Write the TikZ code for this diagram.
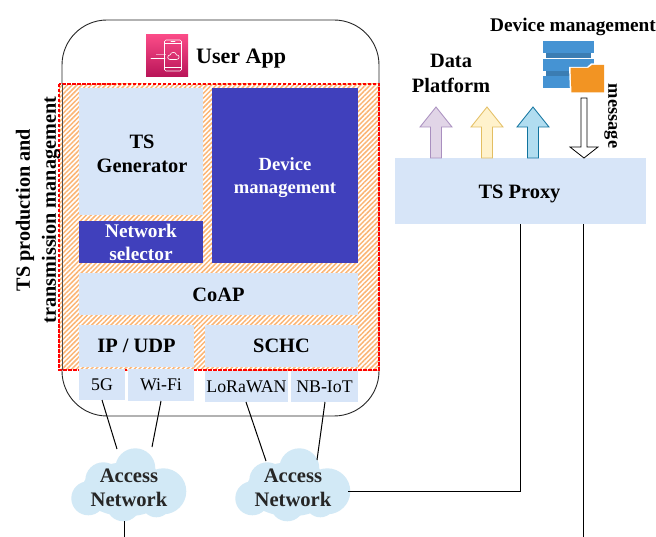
\documentclass[tikz,border=0pt]{standalone}
\usepackage{fontspec}
\setmainfont{Liberation Serif}
\usetikzlibrary{patterns.meta,shapes.arrows,calc}
\definecolor{boxblue}{HTML}{D7E5F8}
\definecolor{deepblue}{HTML}{4040BC}
\definecolor{cloudblue}{HTML}{D2E9F6}
\definecolor{hatchor}{HTML}{FBB574}
\definecolor{icontop}{HTML}{FA4B87}
\definecolor{iconbot}{HTML}{B81458}
\definecolor{purpd}{HTML}{A98FBF}
\definecolor{purpf}{HTML}{E1D5E7}
\definecolor{yeld}{HTML}{E3BE62}
\definecolor{yelf}{HTML}{FFF2CC}
\definecolor{blud}{HTML}{10739E}
\definecolor{bluf}{HTML}{B1DDF0}
\definecolor{srv}{HTML}{4593D3}
\definecolor{fold}{HTML}{F29423}
\tikzset{
  x=1pt,y=-1pt,
  lb/.style={fill=boxblue,inner sep=0pt,align=center,font=\fontsize{20.4}{24}\selectfont\bfseries,text=black},
  db/.style={fill=deepblue,inner sep=0pt,align=center,font=\fontsize{18.6}{23}\selectfont\bfseries,text=white},
  sb/.style={fill=boxblue,inner sep=0pt,align=center,font=\fontsize{17.8}{20}\selectfont,text=black},
  lbl/.style={inner sep=0pt,align=center,font=\fontsize{20.2}{26}\selectfont\bfseries},
  cn/.style={inner sep=0pt,align=center,font=\fontsize{20.6}{24}\selectfont\bfseries,text=black!85},
  conn/.style={draw=black,line width=1pt},
  uparrow/.style={line width=0.8pt,line join=miter},
}
\newcommand{\mycloud}[2]{%
  \begin{scope}[shift={(#1,#2)}]
    \fill[cloudblue] (-40,13) circle[radius=17] (-25,-5) circle[radius=18] (7,-17) circle[radius=20]
      (35,6) circle[radius=23] (-5,19) circle[radius=17] (28,17) circle[radius=15]
      (-2,4) ellipse[x radius=44,y radius=27];
  \end{scope}}
\newcommand{\myuparrow}[3]{%
  \draw[uparrow,draw=#2,fill=#3] (#1-5.5,158) -- (#1-5.5,127) -- (#1-16,127) -- (#1,107) -- (#1+16,127) -- (#1+5.5,127) -- (#1+5.5,158) -- cycle;}
\begin{document}
\begin{tikzpicture}
\useasboundingbox (0,0) rectangle (656,537);
\fill[white] (0,0) rectangle (656,537);
% device outline
\draw[line width=0.9pt,black!85,rounded corners=45pt] (62,20) rectangle (379,416);
% hatching
\fill[white] (59,84) rectangle (379,370);
\fill[pattern={Lines[angle=45,distance=3.4pt,line width=1.5pt]},pattern color=hatchor] (59,84) rectangle (379,370);
\draw[line width=1.1pt,red,dash pattern=on 3.5pt off 1.5pt] (59,84) rectangle (379,370);
\draw[line width=0.6pt,black!70] (62,84) -- (62,370);
% stack
\node[lb,minimum width=124pt,minimum height=127pt] (gen) at (141,151.5) {};
\node[inner sep=0pt,align=center,font=\fontsize{20.4}{24}\selectfont\bfseries] (gentxt) at (142,154) {TS\\Generator};
\node[db,minimum width=124pt,minimum height=42pt,font=\fontsize{19.3}{23}\selectfont\bfseries] (sel) at (141,242) {Network\\selector};
\node[db,minimum width=146pt,minimum height=175pt] (dev) at (285,175.5) {};
\node[text=white,inner sep=0pt,align=center,font=\fontsize{18.6}{23}\selectfont\bfseries] (devtxt) at (285,178) {Device\\management};
\node[lb,minimum width=279pt,minimum height=42pt] (coap) at (218.5,294.5) {CoAP};
\node[lb,minimum width=115pt,minimum height=42pt] (ip) at (136.5,346) {IP / UDP};
\node[lb,minimum width=153pt,minimum height=42pt] (schc) at (281.5,346) {SCHC};
% radios
\node[sb,minimum width=46pt,minimum height=31pt] (fiveg) at (102,384.5) {5G};
\node[sb,minimum width=66pt,minimum height=32pt] (wifi) at (161,385) {Wi-Fi};
\node[sb,minimum width=83pt,minimum height=31pt] (lora) at (246.5,386.5) {LoRaWAN};
\node[sb,minimum width=67pt,minimum height=31pt] (nb) at (324.5,386.5) {NB-IoT};
% user app
\shade[bottom color=iconbot,top color=icontop] (146,35) rectangle (188,77);
\begin{scope}[draw=white,line width=0.6pt,line cap=round]
  \draw[rounded corners=1.5pt] (164.5,40) rectangle (181.5,71);
  \draw (164.5,43.5) -- (181.5,43.5) (164.5,67.5) -- (181.5,67.5);
  \draw (171,41.8) -- (175,41.8);
  \fill[white,opacity=.5] (156,54) rectangle (166,55.5);
  \draw (151,58.5) -- (165,58.5);
  \draw[fill=none] (170,59.5) .. controls (167,59.5) and (167,55) .. (170,55) .. controls (171,51.5) and (176,51.5) .. (176.5,55) .. controls (180,54.5) and (180,59.5) .. (176.5,59.5) -- cycle;
\end{scope}
\node[lbl,anchor=west,font=\fontsize{22}{24}\selectfont\bfseries] (app) at (196,59) {User App};
% rotated labels
\node[lbl,rotate=90] (prod) at (38,210) {TS production and\\transmission management};
% clouds
\mycloud{128.3}{485.3}
\mycloud{292.3}{485.3}
\node[cn] (cloudA) at (129,487.5) {Access\\Network};
\node[cn] (cloudB) at (293,487.5) {Access\\Network};
\coordinate (ca1) at (117,449);
\coordinate (ca2) at (152,447);
\coordinate (cb1) at (266,461);
\coordinate (cb2) at (317,460);
\coordinate (cbr) at (348,491.5);
\coordinate (caout) at (124.5,521);
\coordinate (caend) at (124.5,537);
\coordinate (pxend) at (583.5,537);
\draw[conn] (102,400) -- (ca1);
\draw[conn] (161,401) -- (ca2);
\draw[conn] (246,402) -- (cb1);
\draw[conn] (325,402) -- (cb2);
\draw[conn] (caout) -- (caend);
% proxy
\node[lb,minimum width=251pt,minimum height=66pt] (proxy) at (520.5,191) {};
\node[inner sep=0pt,font=\fontsize{20.4}{24}\selectfont\bfseries] (proxytxt) at (519.5,194) {TS Proxy};
\draw[conn] (cbr) -- (520.5,491.5) -- (proxy.south);
\draw[conn] (proxy.south -| pxend) -- (pxend);
% up arrows
\myuparrow{436}{purpd}{purpf}
\myuparrow{487}{yeld}{yelf}
\myuparrow{533}{blud}{bluf}
% message arrow
\draw[line width=0.8pt,fill=white] (581,98) -- (587,98) -- (587,147) -- (598,147) -- (584,158) -- (570,147) -- (581,147) -- cycle;
\node[lbl,rotate=-90,font=\fontsize{18.4}{20}\selectfont\bfseries] (msg) at (611,116) {message};
% labels
\node[lbl,font=\fontsize{20.4}{25}\selectfont\bfseries] (plat) at (451,73) {Data\\Platform};
\node[lbl,font=\fontsize{19.3}{20}\selectfont\bfseries] (devt) at (573,27) {Device management};
% server icon
\fill[srv] (543,41) rectangle (594,53);
\fill[srv!85!black] (546,53.5) rectangle (591,58);
\fill[srv] (543,59) rectangle (594,71);
\fill[srv!85!black] (546,71.5) rectangle (591,76);
\fill[srv] (543,76.5) rectangle (594,88);
\fill[white] (569,67) -- (587,67) -- (591,63.5) -- (605,63.5) -- (605,93.5) -- (570,93.5) -- cycle;
\fill[fold] (570.5,68) -- (588,68) -- (592,65) -- (604,65) -- (604,92.5) -- (571.5,92.5) -- cycle;
\end{tikzpicture}
\end{document}
